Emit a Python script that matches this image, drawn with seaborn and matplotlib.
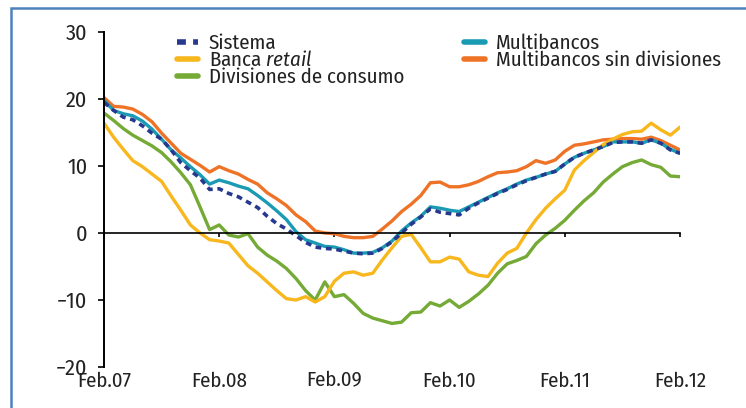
# Crecimiento del crédito por tipo de entidad, feb.07 - feb.12 (% interanual)
import matplotlib

matplotlib.use("Agg")
import matplotlib.pyplot as plt
import numpy as np
import pandas as pd
import seaborn as sns
from matplotlib.patches import Rectangle

months = np.arange(61)  # Feb.07 ... Feb.12, mensual
tick_pos = [0, 12, 24, 36, 48, 60]
tick_labels = ["Feb.07", "Feb.08", "Feb.09", "Feb.10", "Feb.11", "Feb.12"]

sistema = [19.5, 18.3, 17.3, 16.9, 16.0, 14.9, 14.0, 12.4, 10.5, 9.3,
           8.2, 6.5, 6.6, 5.9, 5.4, 4.6, 3.8, 2.5, 1.4, 0.6,
           -0.4, -1.4, -2.1, -2.3, -2.4, -2.7, -3.0, -3.1, -3.0, -2.3,
           -1.3, 0.0, 1.3, 2.4, 3.6, 3.1, 2.9, 2.7, 3.7, 4.5,
           5.2, 5.9, 6.5, 7.2, 7.8, 8.3, 8.8, 9.2, 10.3, 11.3,
           11.9, 12.4, 12.9, 13.5, 13.6, 13.6, 13.4, 13.9, 13.4, 12.4, 11.9]
retail = [16.4, 14.3, 12.5, 10.8, 9.9, 8.8, 7.7, 5.5, 3.4, 1.2,
          0.0, -1.0, -1.2, -1.5, -3.2, -4.9, -6.0, -7.3, -8.6, -9.8,
          -10.0, -9.5, -10.3, -9.5, -7.2, -6.0, -5.8, -6.3, -6.0, -4.0,
          -2.2, -0.5, -0.2, -2.2, -4.3, -4.3, -3.6, -3.9, -5.8, -6.3,
          -6.5, -4.5, -3.0, -2.3, 0.0, 2.0, 3.7, 5.1, 6.4, 9.4,
          10.8, 12.0, 13.2, 14.0, 14.7, 15.1, 15.2, 16.4, 15.4, 14.6, 15.8]
consumo = [17.9, 16.8, 15.6, 14.6, 13.8, 13.0, 12.0, 10.6, 9.0, 7.2,
           3.9, 0.5, 1.2, -0.3, -0.6, -0.1, -2.1, -3.3, -4.2, -5.3,
           -6.8, -8.6, -10.0, -7.3, -9.5, -9.2, -10.5, -12.0, -12.7, -13.1,
           -13.5, -13.3, -11.9, -11.8, -10.4, -10.9, -10.0, -11.1, -10.2, -9.1,
           -7.8, -6.0, -4.6, -4.1, -3.5, -1.6, -0.3, 0.7, 1.9, 3.4,
           4.8, 6.0, 7.6, 8.8, 9.9, 10.5, 10.9, 10.2, 9.8, 8.5, 8.4]
multi = [19.8, 18.3, 17.8, 17.5, 16.7, 15.5, 14.0, 12.4, 11.2, 9.9,
         8.7, 7.3, 7.9, 7.5, 7.0, 6.6, 5.6, 4.5, 3.3, 2.0,
         0.2, -1.0, -1.5, -2.0, -2.1, -2.5, -3.0, -3.0, -2.9, -2.2,
         -1.2, 0.3, 1.5, 2.5, 3.9, 3.7, 3.4, 3.2, 3.9, 4.6,
         5.3, 6.0, 6.6, 7.3, 7.9, 8.3, 8.8, 9.2, 10.3, 11.3,
         11.9, 12.4, 12.9, 13.6, 13.6, 13.6, 13.4, 13.9, 13.4, 12.5, 11.9]
multi_sin = [20.2, 18.9, 18.8, 18.5, 17.7, 16.6, 14.9, 13.4, 11.9, 11.0,
             10.1, 9.1, 9.9, 9.3, 8.8, 8.0, 7.3, 6.0, 5.1, 4.1,
             2.7, 1.7, 0.3, 0.0, -0.1, -0.5, -0.7, -0.7, -0.5, 0.6,
             1.8, 3.2, 4.3, 5.6, 7.5, 7.6, 6.9, 6.9, 7.2, 7.7,
             8.4, 9.0, 9.1, 9.3, 9.9, 10.8, 10.4, 10.9, 12.2, 13.1,
             13.3, 13.6, 13.9, 14.0, 14.1, 14.1, 14.0, 14.3, 13.8, 13.1, 12.4]

df = pd.DataFrame({"mes": months, "Sistema": sistema, "Banca retail": retail,
                   "Divisiones de consumo": consumo, "Multibancos": multi,
                   "Multibancos sin divisiones": multi_sin})

sns.set_theme(style="white")
plt.rcParams["font.family"] = ["Fira Sans Condensed", "DejaVu Sans"]
plt.rcParams["mathtext.fontset"] = "custom"
plt.rcParams["mathtext.it"] = "Fira Sans Condensed:italic"
plt.rcParams["mathtext.rm"] = "Fira Sans Condensed"
txt = "#222222"

fig = plt.figure(figsize=(7.46, 4.08), dpi=100)
ax = fig.add_axes([104 / 746, 1 - 367 / 408, 576 / 746, 335 / 408])

styles = [  # (columna, etiqueta, color)
    ("Multibancos sin divisiones", "Multibancos sin divisiones", "#EE7326"),
    ("Multibancos", "Multibancos", "#1B9BB3"),
    ("Divisiones de consumo", "Divisiones de consumo", "#74AA35"),
    ("Banca retail", "Banca $\\it{retail}$", "#F7B71D"),
]
for col, lab, c in styles:
    sns.lineplot(data=df, x="mes", y=col, ax=ax, color=c, lw=2.4, label=lab)
sns.lineplot(data=df, x="mes", y="Sistema", ax=ax, color="#27398F", lw=2.6,
             label="Sistema", dashes=False, linestyle=(0, (1.6, 1.3)))

ax.set_xlim(0, 60)
ax.set_ylim(-20, 30)
ax.set_yticks([-20, -10, 0, 10, 20, 30])
ax.set_xlabel("")
ax.set_ylabel("")
for s in ["top", "right"]:
    ax.spines[s].set_visible(False)
ax.spines["left"].set_color("black")
ax.spines["left"].set_linewidth(1.4)
ax.spines["bottom"].set_position(("data", 0))
ax.spines["bottom"].set_color("black")
ax.spines["bottom"].set_linewidth(1.2)
ax.set_xticks(tick_pos)
ax.tick_params(axis="x", bottom=True, labelbottom=False, length=3, width=1.2,
               color="black", direction="out")
ax.tick_params(axis="y", left=True, length=4, width=1.2, color="black",
               pad=8, labelsize=16, labelcolor=txt)

sec = ax.secondary_xaxis("bottom")
sec.set_xticks(tick_pos, tick_labels)
sec.spines["bottom"].set_visible(False)
sec.tick_params(length=0, pad=3, labelsize=15, labelcolor=txt)

h, l = ax.get_legend_handles_labels()
order = ["Sistema", "Banca $\\it{retail}$", "Divisiones de consumo",
         "Multibancos", "Multibancos sin divisiones"]
hd = dict(zip(l, h))
leg = ax.legend([hd[k] for k in order], order, ncol=2, frameon=False,
                loc="upper left", bbox_to_anchor=(167 / 746, 1 - 23 / 408),
                bbox_transform=fig.transFigure, fontsize=15, borderpad=0,
                handlelength=1.0, handletextpad=0.5, labelspacing=-0.12,
                columnspacing=2.9)
for t in leg.get_texts():
    t.set_color(txt)
for lh in leg.get_lines():
    lh.set_linewidth(4)

fig.patches.append(Rectangle((11 / 746, -0.1), 1.0, 1.1 - 8 / 408,
                             transform=fig.transFigure, fill=False,
                             edgecolor="#4F81BD", lw=1.8))

fig.savefig("out.png", dpi=100)
